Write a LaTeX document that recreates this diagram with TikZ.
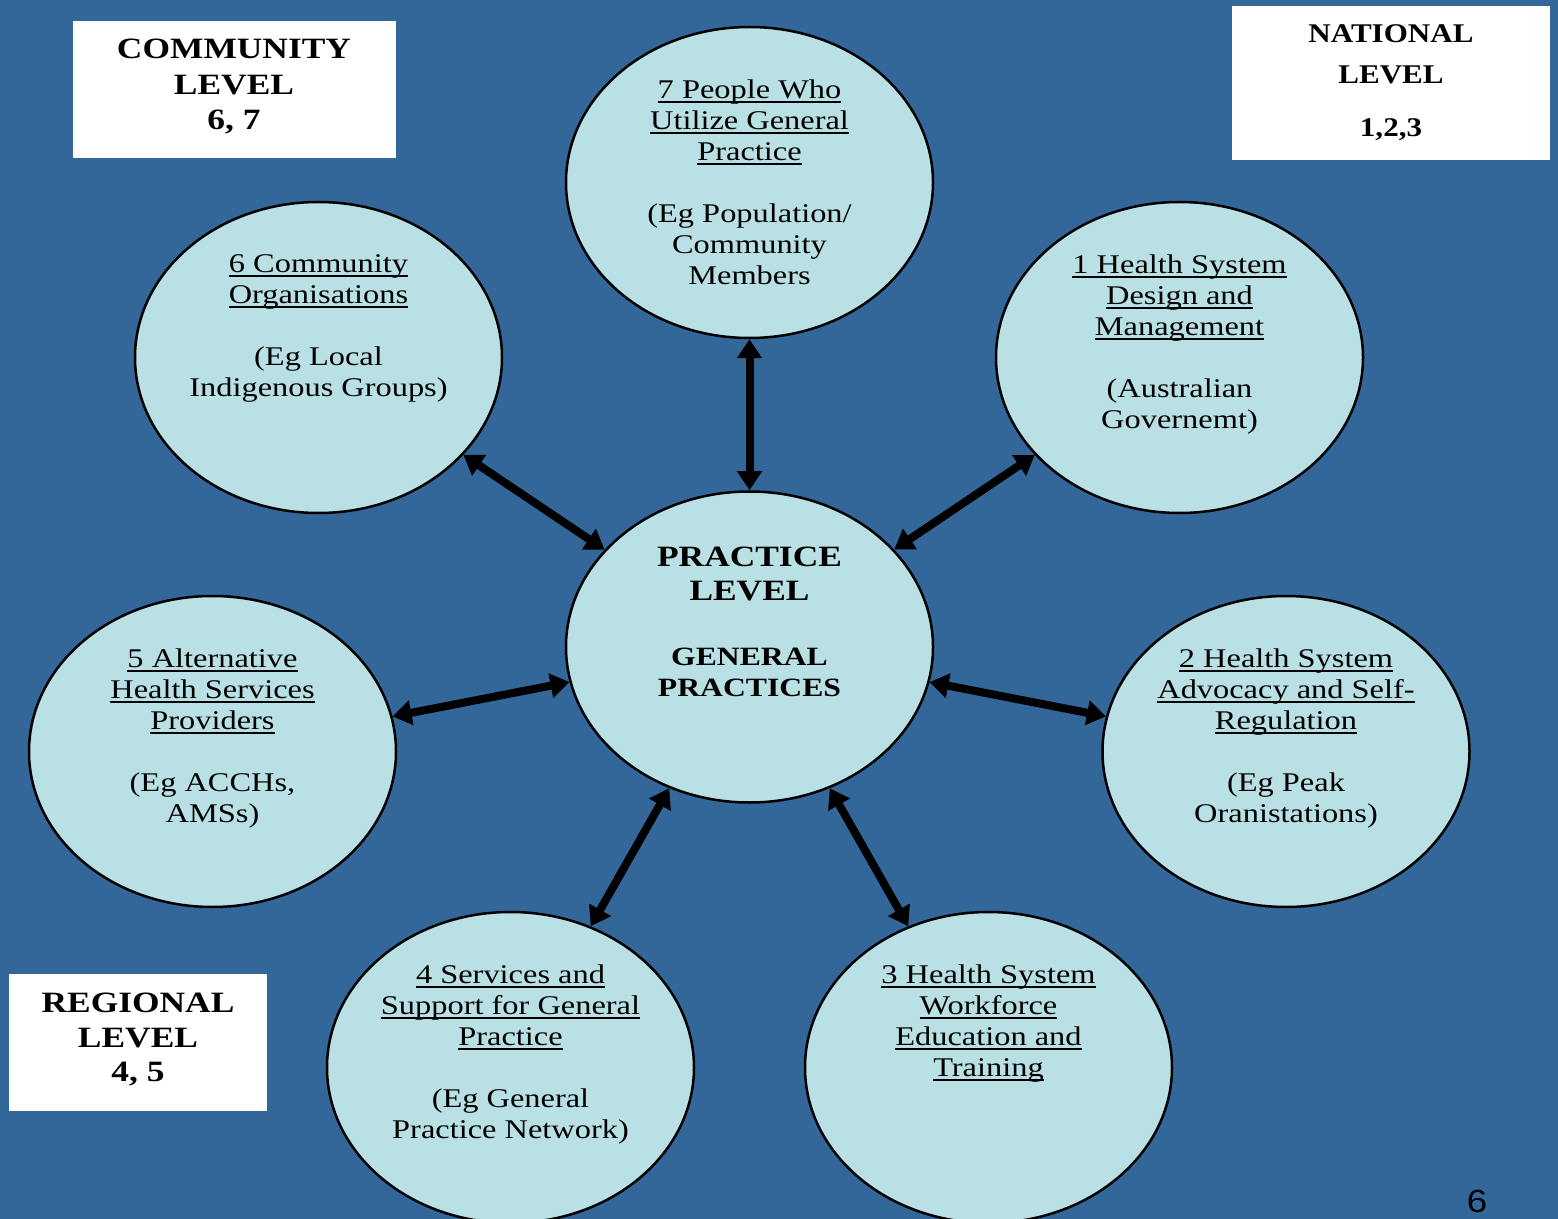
\documentclass[tikz,border=0pt]{standalone}
\usepackage{fontspec}
\usetikzlibrary{shapes.geometric,arrows.meta}
\setmainfont{Liberation Serif}
\newfontfamily\stretchserif[FakeStretch=1.2]{Liberation Serif}
\newfontfamily\natserif[FakeStretch=1.15]{Liberation Serif}
\newfontfamily\pagesans[FakeStretch=1.15]{Liberation Sans}
\definecolor{bgblue}{RGB}{51,102,153}
\definecolor{bubble}{RGB}{185,224,228}
\newsavebox\ulbox
\newcommand\myul[1]{\sbox\ulbox{#1}\rlap{\rule[-2pt]{\wd\ulbox}{1pt}}\usebox\ulbox}
\tikzset{
  bubblenode/.style={ellipse, draw=black, line width=1.25pt, fill=bubble,
    minimum width=183.5pt, minimum height=155.5pt, inner sep=0pt},
  bubbletext/.style={anchor=north, align=center, inner sep=0pt,
    font=\stretchserif\fontsize{13.5}{15.5}\selectfont},
  boldtext/.style={anchor=north, align=center, inner sep=0pt,
    font=\stretchserif\bfseries\fontsize{14.75}{17.5}\selectfont},
  levelbox/.style={rectangle, fill=white, inner sep=0pt},
  biarrow/.style={line width=4pt,
    {Triangle[length=9.5pt,width=12pt]}-{Triangle[length=9.5pt,width=12pt]}},
}
\begin{document}
\begin{tikzpicture}[x=0.5pt,y=-0.5pt]
\useasboundingbox (0,0) rectangle (1558,1219);
\clip (0,0) rectangle (1558,1219);
\fill[bgblue] (0,0) rectangle (1558,1219);

% level boxes
\node[levelbox, minimum width=161.5pt, minimum height=68.5pt] (community) at (234.5,89.5) {};
\node[levelbox, minimum width=159pt, minimum height=77pt] (national) at (1391,83) {};
\node[levelbox, minimum width=129pt, minimum height=68.5pt] (regional) at (138,1042.5) {};

\node[boldtext, font=\stretchserif\bfseries\fontsize{14.75}{17.75}\selectfont] (communitytext) at (234,39) {COMMUNITY\\LEVEL\\6, 7};
\node[boldtext, font=\natserif\bfseries\fontsize{13.5}{20.3}\selectfont] (nationaltext) at (1391,24.3) {NATIONAL\\LEVEL\\[6.4pt]1,2,3};
\node[boldtext, font=\stretchserif\bfseries\fontsize{14.75}{17.25}\selectfont] (regionaltext) at (138,993) {REGIONAL\\LEVEL\\4, 5};

% ellipses
\node[bubblenode] (e7) at (749.5,182.5) {};
\node[bubblenode] (e6) at (318.5,357.5) {};
\node[bubblenode] (e1) at (1179.5,357.5) {};
\node[bubblenode] (c)  at (749.5,647) {};
\node[bubblenode] (e5) at (212.5,751.5) {};
\node[bubblenode] (e2) at (1286,751.5) {};
\node[bubblenode] (e4) at (510.5,1067.5) {};
\node[bubblenode] (e3) at (988.5,1067.5) {};

% texts
\node[bubbletext] (t7) at (749.5,79.4) {\myul{7 People Who}\\\myul{Utilize General}\\\myul{Practice}\\[15.5pt](Eg Population/\\Community\\Members};
\node[bubbletext] (t6) at (318.5,254.4) {\myul{6 Community}\\\myul{Organisations}\\[15.5pt](Eg Local\\Indigenous Groups)};
\node[bubbletext] (t1) at (1179.5,254.4) {\myul{1 Health System}\\\myul{Design and}\\\myul{Management}\\[15.5pt](Australian\\Governemt)};
\node[bubbletext] (t5) at (212.5,648.4) {\myul{5 Alternative}\\\myul{Health Services}\\\myul{Providers}\\[15.5pt](Eg ACCHs,\\AMSs)};
\node[bubbletext] (t2) at (1286,648.4) {\myul{2 Health System}\\\myul{Advocacy and Self-}\\\myul{Regulation}\\[15.5pt](Eg Peak\\Oranistations)};
\node[bubbletext] (t4) at (510.5,964.4) {\myul{4 Services and}\\\myul{Support for General}\\\myul{Practice}\\[15.5pt](Eg General\\Practice Network)};
\node[bubbletext] (t3) at (988.5,964.4) {\myul{3 Health System}\\\myul{Workforce}\\\myul{Education and}\\\myul{Training}};
\node[boldtext, font=\stretchserif\bfseries\fontsize{14.75}{16.7}\selectfont] (ct1) at (749.5,547) {PRACTICE\\LEVEL};
\node[boldtext, font=\stretchserif\bfseries\fontsize{13.2}{15.35}\selectfont] (ct2) at (749.5,648) {GENERAL\\PRACTICES};

% arrows
\draw[biarrow] (c) -- (e7);
\draw[biarrow] (c) -- (e6);
\draw[biarrow] (c) -- (e1);
\draw[biarrow] (c) -- (e5);
\draw[biarrow] (c) -- (e2);
\draw[biarrow] (c) -- (e4);
\draw[biarrow] (c) -- (e3);

% page number
\node[anchor=north, inner sep=0pt, font=\pagesans\fontsize{16}{19}\selectfont] (pagenum) at (1477,1190) {6};
\end{tikzpicture}
\end{document}
